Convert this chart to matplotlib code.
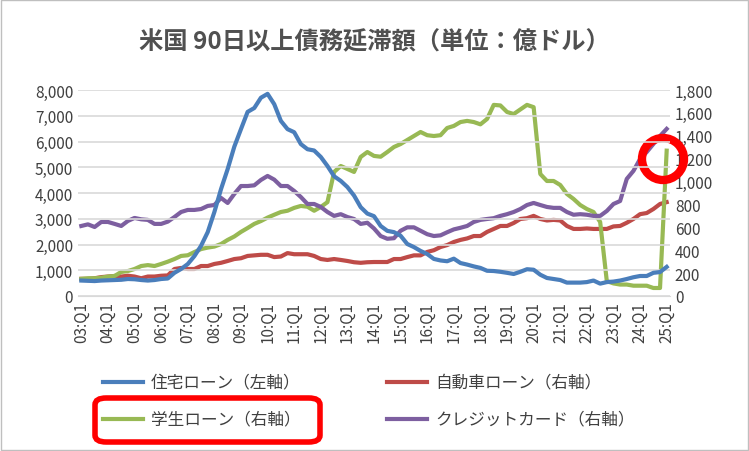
import matplotlib.pyplot as plt
from matplotlib.lines import Line2D
from matplotlib.patches import Ellipse, FancyBboxPatch
from matplotlib.ticker import FuncFormatter

plt.rcParams['font.family'] = ['Noto Sans CJK JP', 'DejaVu Sans']

# 四半期データ 2003Q1 - 2025Q1
mortgage = [600, 590, 580, 600, 610, 620, 630, 660, 650, 620, 600, 620,
            660, 680, 900, 1050, 1240, 1550, 1950, 2480, 3260, 4150, 4930, 5800,
            6480, 7150, 7300, 7700, 7850, 7450, 6800, 6480, 6360, 5900, 5700, 5650,
            5400, 5050, 4650, 4470, 4230, 3900, 3450, 3200, 3100, 2720, 2530, 2480,
            2340, 2020, 1900, 1750, 1630, 1440, 1380, 1350, 1450, 1280, 1220, 1150,
            1090, 980, 970, 940, 900, 855, 940, 1040, 1020, 826, 700, 660,
            620, 520, 520, 520, 540, 600, 480, 540, 560, 600, 660, 728,
            777, 777, 900, 930, 1130]
auto = [150, 150, 155, 165, 170, 175, 170, 177, 170, 155, 170, 170,
        177, 180, 236, 245, 236, 236, 262, 262, 280, 290, 306, 323,
        330, 350, 355, 360, 360, 340, 345, 375, 365, 365, 365, 350,
        323, 315, 323, 315, 306, 295, 290, 295, 297, 297, 297, 323,
        323, 340, 355, 355, 385, 400, 428, 445, 472, 490, 503, 524,
        524, 560, 586, 612, 612, 638, 673, 680, 700, 673, 660, 665,
        660, 612, 586, 586, 590, 586, 586, 586, 608, 612, 640, 673,
        715, 725, 760, 804, 820]
student = [150, 155, 155, 160, 170, 175, 210, 218, 236, 262, 270, 262,
           280, 300, 323, 350, 356, 384, 410, 423, 432, 454, 490, 520,
           560, 594, 630, 655, 685, 710, 734, 745, 770, 787, 780, 745,
           778, 820, 1084, 1136, 1110, 1084, 1215, 1258, 1224, 1217, 1258, 1302,
           1328, 1363, 1398, 1433, 1405, 1398, 1405, 1468, 1486, 1520, 1530, 1520,
           1500, 1547, 1670, 1665, 1608, 1590, 1630, 1670, 1650, 1066, 1005, 1005,
           970, 892, 848, 795, 760, 734, 647, 130, 110, 100, 100, 90,
           90, 90, 70, 70, 1270]
credit = [612, 626, 603, 647, 647, 630, 612, 656, 682, 670, 665, 630,
          630, 650, 690, 734, 752, 752, 760, 787, 795, 857, 813, 892,
          961, 961, 967, 1014, 1049, 1017, 961, 961, 918, 865, 804, 804,
          778, 734, 700, 715, 690, 673, 630, 640, 590, 524, 500, 505,
          570, 600, 600, 570, 540, 524, 530, 557, 582, 596, 612, 647,
          665, 673, 680, 700, 715, 734, 760, 795, 813, 795, 778, 770,
          770, 734, 710, 715, 710, 700, 700, 743, 804, 830, 1023, 1093,
          1197, 1258, 1328, 1398, 1460]
labels = [f'{y % 100:02d}:Q1' for y in range(2003, 2026)]

fig = plt.figure(figsize=(7.49, 4.52), dpi=100)
W, H = 749, 452
ax = fig.add_axes([78 / W, 1 - 297 / H, 592 / W, 206 / H])
ax2 = ax.twinx()
x = list(range(len(mortgage)))

ax.plot(x, mortgage, color='#4a7ebb', lw=3)
ax2.plot(x, auto, color='#be4b48', lw=3)
ax2.plot(x, student, color='#98b954', lw=3)
ax2.plot(x, credit, color='#7d5fa0', lw=3)
ax.set_zorder(ax2.get_zorder() + 1)
ax.patch.set_visible(False)

ax.set_xlim(-0.5, 88.5)
ax.set_ylim(0, 8000)
ax2.set_ylim(0, 1800)
ax.set_yticks(range(0, 8001, 1000))
ax2.set_yticks(range(0, 1801, 200))
fmt = FuncFormatter(lambda v, p: f'{int(v):,}')
ax.yaxis.set_major_formatter(fmt)
ax2.yaxis.set_major_formatter(fmt)
ax.set_xticks(range(0, 89, 4))
ax.set_xticklabels(labels, rotation=90)
ax.grid(axis='y', color='#d9d9d9', lw=1.2)
ax.set_axisbelow(True)
for a in (ax, ax2):
    for s in a.spines.values():
        s.set_visible(False)
    a.tick_params(length=0, labelsize=11, colors='#404040')
ax.spines['bottom'].set_visible(True)
ax.spines['bottom'].set_color('#d9d9d9')

fig.text(0.5, 1 - 42 / H, '米国 90日以上債務延滞額（単位：億ドル）', ha='center', va='center',
         fontsize=17.5, fontweight='bold', color='#505050')

entries = [('住宅ローン（左軸）', '#4a7ebb', 103, 383), ('自動車ローン（右軸）', '#be4b48', 387, 383),
           ('学生ローン（右軸）', '#98b954', 103, 420), ('クレジットカード（右軸）', '#7d5fa0', 387, 420)]
for txt, c, px, py in entries:
    fig.add_artist(Line2D([px / W, (px + 40) / W], [1 - py / H] * 2, color=c, lw=3))
    fig.text((px + 48) / W, 1 - py / H, txt, va='center', fontsize=12, color='#404040')

fig.add_artist(FancyBboxPatch((95 / W, 1 - 443 / H), 225 / W, 44 / H,
                              boxstyle='round,pad=0,rounding_size=0.015', fill=False,
                              ec='red', lw=4, transform=fig.transFigure))
fig.add_artist(Ellipse((663 / W, 1 - 160 / H), 42 / W, 42 / H, fill=False, ec='red', lw=6,
                       transform=fig.transFigure))
fig.add_artist(FancyBboxPatch((1 / W, 1 / H), 747 / W, 450 / H, boxstyle='square,pad=0',
                              fill=False, ec='#bfbfbf', lw=1, transform=fig.transFigure))

fig.savefig('out.png', dpi=100)
